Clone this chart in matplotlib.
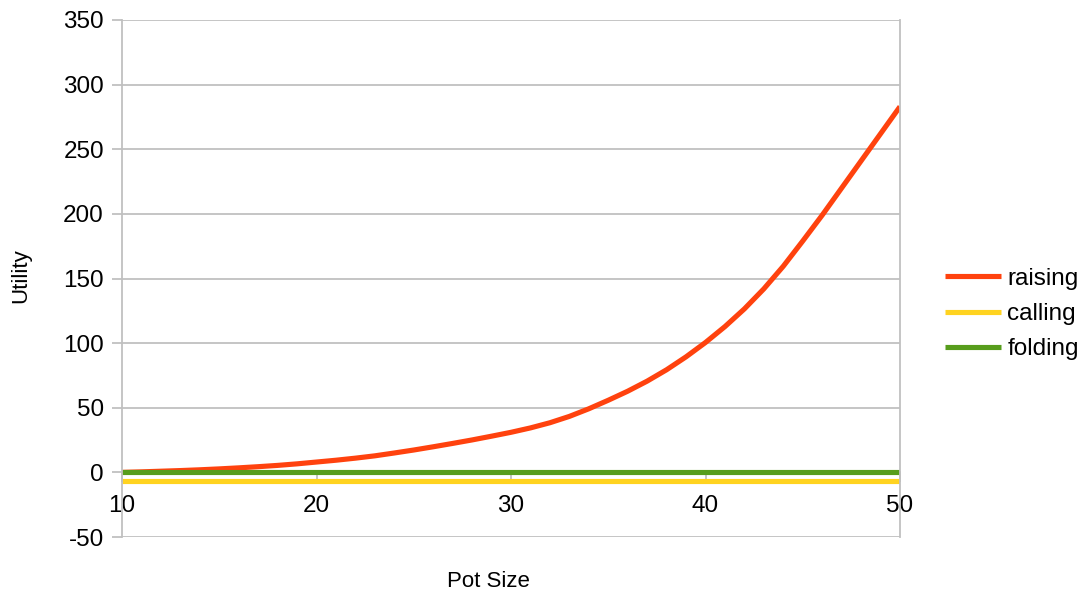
import matplotlib
matplotlib.use("Agg")
import matplotlib.pyplot as plt

plt.rcParams['font.family'] = ['Liberation Sans', 'DejaVu Sans']
plt.rcParams['axes.unicode_minus'] = False

# datos
pot = list(range(10, 51))
raising = [0, 0.4, 0.9, 1.4, 2, 2.7, 3.5, 4.4, 5.4, 6.6,
           8, 9.4, 11, 12.8, 15, 17.3, 19.8, 22.4, 25.1, 28,
           31, 34.4, 38.4, 43.3, 49.2, 55.8, 62.8, 70.6, 79.4, 89.4,
           100.5, 112.8, 126.5, 142, 159.5, 179, 199, 220, 241, 262,
           283]
calling = [-6.5] * len(pot)
folding = [0] * len(pot)

gris = '#c0c0c0'

fig = plt.figure(figsize=(10.86, 5.91), dpi=100)
ax = fig.add_axes([122/1086, 1-537/591, 778/1086, 517/591])

ax.plot(pot, raising, color='#ff420e', lw=3.7, label='raising', solid_capstyle='butt')
ax.plot(pot, calling, color='#ffd320', lw=3.7, label='calling', solid_capstyle='butt')
ax.plot(pot, folding, color='#579d1c', lw=3.7, label='folding', solid_capstyle='butt')

ax.set_xlim(10, 50)
ax.set_ylim(-50, 350)
ax.set_xticks(range(10, 51, 10))
ax.set_yticks(range(-50, 351, 50))
ax.yaxis.grid(True, color=gris, lw=1.3)
ax.set_axisbelow(True)

for s in ['left', 'right']:
    ax.spines[s].set_color(gris)
    ax.spines[s].set_linewidth(1.3)
ax.spines['top'].set_visible(False)
ax.spines['bottom'].set_position(('data', 0))
ax.spines['bottom'].set_color(gris)
ax.spines['bottom'].set_linewidth(1.3)
ax.spines['bottom'].set_zorder(0.5)

ax.tick_params(axis='y', direction='out', length=7, width=1.3, color=gris, pad=6, labelsize=17.5)
ax.tick_params(axis='x', direction='out', length=7, width=1.3, color=gris, pad=9, labelsize=17.5)

fig.text(488/1086, 1-587/591, 'Pot Size', ha='center', va='baseline', fontsize=16)
fig.text(21/1086, 1-276/591, 'Utility', ha='center', va='center', rotation=90, fontsize=16)

fig.legend(loc='center left', bbox_to_anchor=(938/1086, 1-314/591), frameon=False,
           fontsize=17.5, handlelength=2.3, handletextpad=0.25, labelspacing=0.55,
           borderaxespad=0, borderpad=0.3)

fig.savefig('out.png', dpi=100)
